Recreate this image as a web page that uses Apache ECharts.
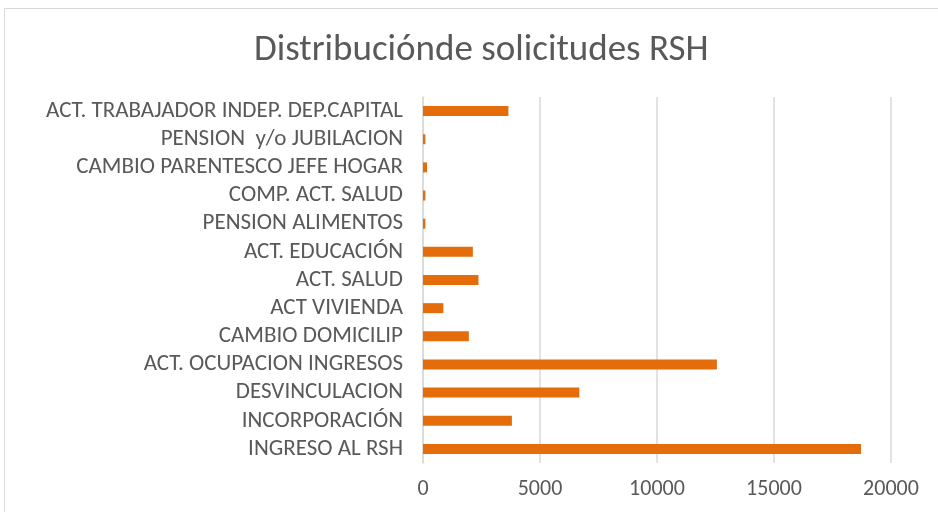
<!DOCTYPE html>
<html>
<head>
<meta charset="utf-8">
<script src="https://cdn.jsdelivr.net/npm/echarts@6/dist/echarts.min.js"></script>
<style>
  html, body { margin: 0; padding: 0; background: #fff; }
  #chart { width: 938px; height: 512px; }
</style>
</head>
<body>
<div id="chart"></div>
<script>
// categorías (de abajo hacia arriba, como en el eje)
const categories = [
  'INGRESO AL RSH',
  'INCORPORACIÓN',
  'DESVINCULACION',
  'ACT. OCUPACION INGRESOS',
  'CAMBIO DOMICILIP',
  'ACT VIVIENDA',
  'ACT. SALUD',
  'ACT. EDUCACIÓN',
  'PENSION ALIMENTOS',
  'COMP. ACT. SALUD',
  'CAMBIO PARENTESCO JEFE HOGAR',
  'PENSION  y/o JUBILACION',
  'ACT. TRABAJADOR INDEP. DEP.CAPITAL'
];

// cantidad de solicitudes
const solicitudes = [18720, 3800, 6680, 12560, 1960, 870, 2370, 2130, 100, 100, 170, 100, 3650];

// etiquetas del eje x
const xTicks = [0, 5000, 10000, 15000, 20000];

const chart = echarts.init(document.getElementById('chart'));

const labelFont = 'Carlito, Calibri, "Open Sans", sans-serif';

const option = {
  animation: false,
  title: {
    text: 'Distribuciónde solicitudes RSH',
    left: 249,
    top: 27,
    textStyle: {
      fontFamily: labelFont,
      fontWeight: 'normal',
      fontSize: 37,
      color: '#595959'
    }
  },
  graphic: [{
    type: 'rect',
    shape: { x: 4.5, y: 8.5, width: 940, height: 510 },
    style: { fill: 'none', stroke: '#d9d9d9', lineWidth: 1 },
    silent: true
  }],
  grid: {
    left: 423,
    right: 47,
    top: 97,
    bottom: 49
  },
  xAxis: {
    type: 'value',
    min: xTicks[0],
    max: xTicks[xTicks.length - 1],
    interval: 5000,
    axisLine: { show: false },
    axisTick: { show: false },
    axisLabel: {
      fontFamily: labelFont,
      fontSize: 22,
      color: '#595959',
      margin: 15,
      formatter: v => String(v)
    },
    splitLine: { lineStyle: { color: '#d9d9d9', width: 1.5 } }
  },
  yAxis: {
    type: 'category',
    data: categories,
    axisLine: { show: true, lineStyle: { color: '#d9d9d9', width: 1.5 } },
    axisTick: { show: false },
    axisLabel: {
      interval: 0,
      fontFamily: labelFont,
      fontSize: 23,
      color: '#595959',
      margin: 20
    }
  },
  series: [{
    type: 'bar',
    data: solicitudes,
    barWidth: 10,
    itemStyle: { color: '#e46c0a' }
  }]
};

chart.setOption(option);
</script>
</body>
</html>
